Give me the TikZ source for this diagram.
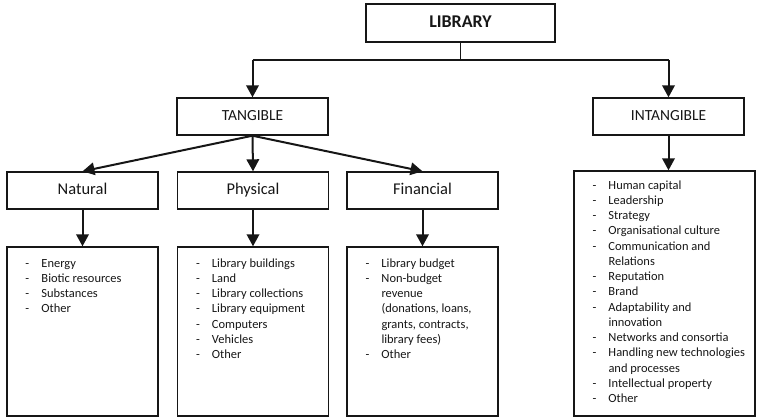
\documentclass[tikz,border=0pt]{standalone}
\usepackage{fontspec}
\setmainfont{Carlito}
\usetikzlibrary{arrows.meta}
\definecolor{ink}{HTML}{161616}
\begin{document}
\begin{tikzpicture}[x=1bp,y=-1bp,
  box/.style={draw=ink, line width=1.4bp, rectangle, inner sep=0pt, text=ink},
  headbox/.style={box, minimum width=151bp, minimum height=37bp, text height=11.5bp, text depth=3.5bp, font=\fontsize{16.5}{19}\selectfont},
  listbox/.style={box, minimum width=151bp, minimum height=169bp},
  listtext/.style={anchor=north west, inner sep=0pt, text=ink, font=\fontsize{12.5}{15.3}\selectfont},
  link/.style={draw=ink, line width=2bp, -{Triangle[length=12bp,width=12.5bp]}},
  stem/.style={draw=ink, line width=1.4bp}
]
\useasboundingbox (0,0) rectangle (757,417);

% top level
\node[box, minimum width=189bp, minimum height=38bp, text height=12.5bp, text depth=3.5bp, font=\fontsize{18}{21}\selectfont\bfseries] (lib) at (460.5,23) {LIBRARY};
\node[headbox, font=\fontsize{15.5}{18}\selectfont] (tang) at (252.5,116.5) {TANGIBLE};
\node[headbox, font=\fontsize{15.5}{18}\selectfont] (intang) at (668.5,116.5) {INTANGIBLE};

% tangible categories
\node[headbox] (nat) at (82.5,190.5) {Natural};
\node[headbox] (phys) at (253,190.5) {Physical};
\node[headbox] (fin) at (422.5,190.5) {Financial};

% item boxes
\node[listbox] (natl) at (82.5,331.5) {};
\node[listbox] (physl) at (253,331.5) {};
\node[listbox] (finl) at (422.5,331.5) {};
\node[box, minimum width=181bp, minimum height=245bp] (intl) at (664.5,293.5) {};

% item texts
\newcommand{\itemrows}[1]{\begin{tabular}{@{}p{16bp}@{}l@{}}#1\end{tabular}}
\node[listtext] (natt) at ([xshift=19bp,yshift=-10bp]natl.north west) {\itemrows{
- & Energy\\
- & Biotic resources\\
- & Substances\\
- & Other}};
\node[listtext] (physt) at ([xshift=19bp,yshift=-10bp]physl.north west) {\itemrows{
- & Library buildings\\
- & Land\\
- & Library collections\\
- & Library equipment\\
- & Computers\\
- & Vehicles\\
- & Other}};
\node[listtext] (fint) at ([xshift=19bp,yshift=-10bp]finl.north west) {\itemrows{
- & Library budget\\
- & Non-budget\\
  & revenue\\
  & (donations, loans,\\
  & grants, contracts,\\
  & library fees)\\
- & Other}};
\node[listtext] (intt) at ([xshift=19bp,yshift=-8bp]intl.north west) {\itemrows{
- & Human capital\\
- & Leadership\\
- & Strategy\\
- & Organisational culture\\
- & Communication and\\
  & Relations\\
- & Reputation\\
- & Brand\\
- & Adaptability and\\
  & innovation\\
- & Networks and consortia\\
- & Handling new technologies\\
  & and processes\\
- & Intellectual property\\
- & Other}};

% connectors
\coordinate (split) at (lib.south |- 0,60);
\draw[stem] (lib.south) -- (split);
\draw[stem] (tang.north |- split) -- (intang.north |- split);
\draw[link] (tang.north |- split) -- (tang.north);
\draw[link] (intang.north |- split) -- (intang.north);
\draw[link] (tang.south) -- (nat.north);
\draw[link] (tang.south) -- (phys.north);
\draw[link] (tang.south) -- (fin.north);
\draw[link] (nat.south) -- (natl.north);
\draw[link] (phys.south) -- (physl.north);
\draw[link] (fin.south) -- (finl.north);
\draw[link] (intang.south) -- (intang.south |- intl.north);
\end{tikzpicture}
\end{document}
